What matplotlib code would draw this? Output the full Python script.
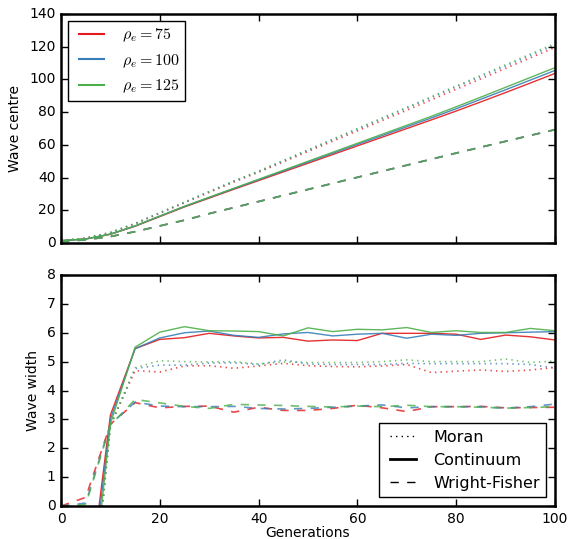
import matplotlib
matplotlib.use("Agg")
import matplotlib.pyplot as plt
from matplotlib.lines import Line2D

plt.style.use("classic")
plt.rcParams["mathtext.fontset"] = "cm"
plt.rcParams["font.family"] = ["DejaVu Sans"]

gens = [0, 5, 10, 15, 20, 25, 30, 35, 40, 45, 50, 55, 60, 65, 70, 75, 80, 85, 90, 95, 100]
rhos = [75, 100, 125]
colours = ["#e41a1c", "#377eb8", "#4daf4a"]

# wave centre
centre_moran = [
    [1.5, 3, 6.3, 11.8, 18.2, 24.6, 31, 37.3, 43.3, 49.6, 56, 62.3, 68.6, 74.9, 81.2, 87.6, 94, 100.4, 106.8, 113.2, 119.5],
    [1.5, 3, 6.5, 12, 18.5, 25, 31.5, 37.8, 43.8, 50.2, 56.7, 63.2, 69.6, 76, 82.5, 89, 95.4, 101.8, 108.2, 114.6, 121],
    [1.5, 3, 6.5, 12, 18.5, 25, 31.5, 38, 44, 50.5, 57, 63.5, 70, 76.5, 83, 89.5, 96, 102.5, 109, 115.5, 122],
]
centre_cont = [
    [1.5, 2.5, 5.4, 10.3, 16.2, 22.1, 27.5, 32.9, 38.2, 43.5, 48.8, 54.1, 59.4, 64.7, 70, 75.3, 80.7, 86.3, 92, 97.8, 103.7],
    [1.5, 2.5, 5.5, 10.5, 16.5, 22.4, 27.9, 33.3, 38.7, 44.1, 49.5, 54.9, 60.3, 65.7, 71.1, 76.5, 82.1, 87.9, 93.7, 99.6, 105.5],
    [1.5, 2.5, 5.5, 10.5, 16.5, 22.5, 28, 33.5, 39, 44.5, 50, 55.5, 61, 66.5, 72, 77.5, 83.3, 89.2, 95.2, 101.2, 107.2],
]
centre_wf = [
    [1, 2, 4, 7, 10.5, 14, 18, 21.7, 25.4, 29.1, 32.8, 36.5, 40.2, 43.9, 47.6, 51.3, 55, 58.6, 62.2, 65.8, 69.3],
    [1, 2, 4, 7, 10.5, 14, 18, 21.7, 25.4, 29.1, 32.8, 36.5, 40.2, 43.9, 47.6, 51.3, 55, 58.6, 62.2, 65.8, 69.3],
    [1, 2, 4, 7, 10.5, 14, 18, 21.7, 25.4, 29.1, 32.8, 36.5, 40.2, 43.9, 47.6, 51.3, 55, 58.6, 62.2, 65.8, 69.3],
]

# wave width
width_moran = [
    [-10, -5.9, 2.8, 4.69, 4.64, 4.85, 4.86, 4.77, 4.85, 4.94, 4.86, 4.83, 4.82, 4.85, 4.9, 4.62, 4.67, 4.71, 4.66, 4.71, 4.8],
    [-10, -5.9, 2.8, 4.76, 4.88, 4.88, 4.95, 4.96, 4.9, 5.06, 4.92, 4.9, 4.9, 4.9, 4.94, 4.93, 4.93, 4.93, 4.93, 4.9, 4.78],
    [-10, -5.9, 2.75, 4.79, 5.03, 5.0, 4.99, 5.0, 4.92, 4.99, 4.97, 4.97, 4.97, 5.0, 5.06, 5.0, 5.0, 5.0, 5.09, 4.97, 5.02],
]
width_cont = [
    [-10, -3.7, 3.15, 5.45, 5.77, 5.83, 5.98, 5.89, 5.82, 5.84, 5.71, 5.75, 5.73, 5.98, 5.98, 5.98, 5.95, 5.77, 5.92, 5.86, 5.75],
    [-10, -4.3, 3.0, 5.45, 5.82, 6.0, 6.06, 5.91, 5.84, 5.96, 6.01, 5.89, 5.95, 5.98, 5.81, 5.95, 5.91, 5.98, 6.0, 6.02, 6.04],
    [-10, -5.1, 2.85, 5.5, 6.02, 6.21, 6.07, 6.06, 6.04, 5.89, 6.17, 6.04, 6.12, 6.1, 6.18, 6.01, 6.07, 6.01, 6.01, 6.15, 6.07],
]
width_wf = [
    [0, 0.3, 2.83, 3.58, 3.40, 3.45, 3.46, 3.25, 3.42, 3.31, 3.31, 3.38, 3.49, 3.4, 3.27, 3.44, 3.44, 3.45, 3.4, 3.41, 3.42],
    [0, 0.1, 2.83, 3.6, 3.46, 3.44, 3.44, 3.45, 3.38, 3.36, 3.38, 3.42, 3.46, 3.5, 3.4, 3.44, 3.44, 3.44, 3.39, 3.44, 3.53],
    [0, 0.05, 2.8, 3.69, 3.57, 3.45, 3.38, 3.52, 3.5, 3.48, 3.45, 3.43, 3.46, 3.44, 3.49, 3.44, 3.44, 3.42, 3.39, 3.41, 3.44],
]

fig = plt.figure(figsize=(5.73, 5.39), dpi=100, facecolor="white")
ax1 = fig.add_axes([0.1065, 0.549, 0.862, 0.425])
ax2 = fig.add_axes([0.1065, 0.0612, 0.862, 0.4286])

for i in range(3):
    c = colours[i]
    ax1.plot(gens, centre_moran[i], color=c, ls=":", lw=1.2, alpha=0.8)
    ax1.plot(gens, centre_cont[i], color=c, ls="-", lw=1.0, alpha=0.9,
             label=r"$\rho_e = %d$" % rhos[i])
    ax1.plot(gens, centre_wf[i], color=c, ls="--", lw=1.2, alpha=0.8)
    ax2.plot(gens, width_moran[i], color=c, ls=":", lw=1.2, alpha=0.8)
    ax2.plot(gens, width_cont[i], color=c, ls="-", lw=1.0, alpha=0.9)
    ax2.plot(gens, width_wf[i], color=c, ls="--", lw=1.2, alpha=0.8)

ax1.set_xlim(0, 100)
ax1.set_ylim(0, 140)
ax1.set_xticks([0, 20, 40, 60, 80, 100])
ax1.set_xticklabels([])
ax1.set_yticks(range(0, 141, 20))
ax1.set_ylabel("Wave centre", fontsize=10)
leg1 = ax1.legend(loc="upper left", fontsize=11.5, handlelength=2.2,
                  borderpad=0.35, labelspacing=0.5, handletextpad=0.8,
                  borderaxespad=0.45)
for h in leg1.get_lines():
    h.set_linewidth(1.5)
    h.set_alpha(1)

ax2.set_xlim(0, 100)
ax2.set_ylim(0, 8)
ax2.set_xticks([0, 20, 40, 60, 80, 100])
ax2.set_yticks(range(0, 9))
ax2.set_xlabel("Generations", fontsize=10, labelpad=0)
ax2.set_ylabel("Wave width", fontsize=10)
handles = [Line2D([], [], color="k", ls=":", lw=1),
           Line2D([], [], color="k", ls="-", lw=2),
           Line2D([], [], color="k", ls="--", lw=1)]
ax2.legend(handles, ["Moran", "Continuum", "Wright-Fisher"], loc="lower right",
           fontsize=11.5, handlelength=2.2, borderpad=0.4, labelspacing=0.5,
           handletextpad=0.8, borderaxespad=0.55)

for ax in (ax1, ax2):
    ax.tick_params(labelsize=10, direction="in", length=5, width=1)
    for s in ax.spines.values():
        s.set_linewidth(1.8)

fig.savefig("out.png", dpi=100, facecolor="white")
